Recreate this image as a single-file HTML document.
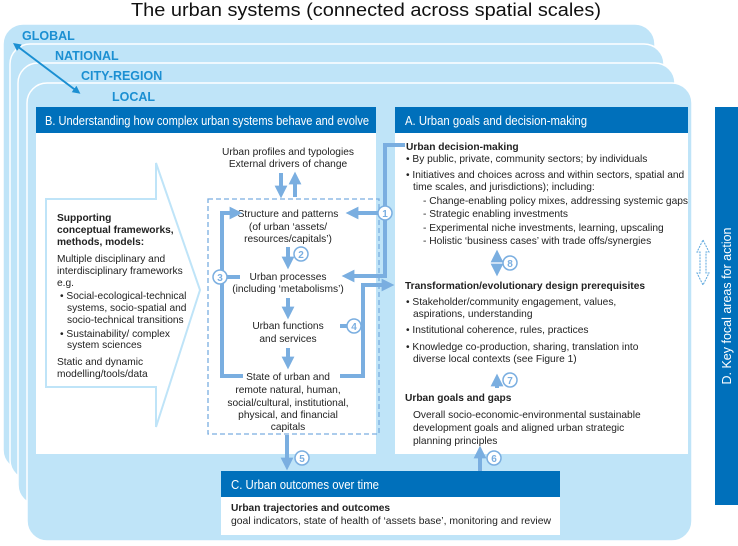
<!DOCTYPE html>
<html><head><meta charset="utf-8"><style>
body{margin:0;background:#fff;}
svg{display:block;font-family:"Liberation Sans",Arial,sans-serif;}
.t{font-size:10.2px;fill:#222;}
.b{font-weight:bold;}
.h{font-size:12.5px;fill:#fff;}
.lay{font-size:12.5px;font-weight:bold;fill:#1b8fd2;}
.cn{fill:#fff;stroke:#7aaee0;stroke-width:1.5;}
.cnt{font-size:10px;fill:#7aaee0;font-weight:bold;text-anchor:middle;}
</style></head><body>
<svg width="738" height="546" viewBox="0 0 738 546" xmlns="http://www.w3.org/2000/svg">
<defs>
<marker id="ah" markerWidth="3.2" markerHeight="3.2" refX="1.6" refY="1.6" orient="auto" markerUnits="strokeWidth"><path d="M0,0 L3.2,1.6 L0,3.2 z" fill="#7aaee0"/></marker>
<marker id="ad" markerWidth="4" markerHeight="4" refX="2.5" refY="2" orient="auto" markerUnits="strokeWidth"><path d="M0,0 L4,2 L0,4 z" fill="#1b8fd2"/></marker>
<marker id="ads" markerWidth="4" markerHeight="4" refX="1.5" refY="2" orient="auto-start-reverse" markerUnits="strokeWidth"><path d="M0,0 L4,2 L0,4 z" fill="#1b8fd2"/></marker>
</defs>
<text x="366" y="16" font-size="18.5" text-anchor="middle" fill="#111" textLength="470" lengthAdjust="spacingAndGlyphs">The urban systems (connected across spatial scales)</text>
<!-- layers -->
<rect x="3" y="24" width="652" height="446" rx="20" fill="#bfe4f8" stroke="#fff" stroke-width="1.5"/>
<rect x="10" y="44" width="654" height="436" rx="20" fill="#bfe4f8" stroke="#fff" stroke-width="1.5"/>
<rect x="18" y="63" width="657" height="442" rx="20" fill="#bfe4f8" stroke="#fff" stroke-width="1.5"/>
<rect x="27" y="83" width="665" height="458" rx="20" fill="#bfe4f8" stroke="#fff" stroke-width="1.5"/>
<text class="lay" x="22" y="40">GLOBAL</text>
<text class="lay" x="55" y="60">NATIONAL</text>
<text class="lay" x="81" y="80">CITY-REGION</text>
<text class="lay" x="112" y="101">LOCAL</text>
<line x1="17" y1="46" x2="78" y2="92" stroke="#1b8fd2" stroke-width="2" marker-end="url(#ad)" marker-start="url(#ads)"/>
<!-- B -->
<rect x="36" y="107" width="340" height="347" fill="#fff"/>
<rect x="36" y="107" width="340" height="26" fill="#0070bb"/>
<text class="h" x="45" y="125" textLength="324" lengthAdjust="spacingAndGlyphs">B. Understanding how complex urban systems behave and evolve</text>
<!-- A -->
<rect x="395" y="107" width="293" height="347" fill="#fff"/>
<rect x="395" y="107" width="293" height="26" fill="#0070bb"/>
<text class="h" x="405" y="125" textLength="182" lengthAdjust="spacingAndGlyphs">A. Urban goals and decision-making</text>
<!-- C -->
<rect x="221" y="471" width="339" height="64" fill="#fff"/>
<rect x="221" y="471" width="339" height="26" fill="#0070bb"/>
<text class="h" x="231" y="489" textLength="148" lengthAdjust="spacingAndGlyphs">C. Urban outcomes over time</text>
<text class="t b" x="231" y="511">Urban trajectories and outcomes</text>
<text class="t" x="231" y="524" textLength="320" lengthAdjust="spacingAndGlyphs">goal indicators, state of health of ‘assets base’, monitoring and review</text>
<!-- D -->
<rect x="715" y="107" width="23" height="398" fill="#0070bb"/>
<text class="h" transform="translate(731,306) rotate(-90)" text-anchor="middle">D. Key focal areas for action</text>
<path d="M703,240 L709,252 L706,252 L706,273 L709,273 L703,285 L697,273 L700,273 L700,252 L697,252 z" fill="none" stroke="#5aa6dd" stroke-width="1" stroke-dasharray="2,1"/>
<!-- big arrow outline -->
<path d="M46,199 L156,199 L156,163 L200,290 L156,427 L156,387 L46,387 z" fill="#fff" stroke="#bfe4f8" stroke-width="2"/>
<g class="t">
<text class="b" x="57" y="221">Supporting</text>
<text class="b" x="57" y="233">conceptual frameworks,</text>
<text class="b" x="57" y="245">methods, models:</text>
<text x="57" y="262">Multiple disciplinary and</text>
<text x="57" y="274">interdisciplinary frameworks</text>
<text x="57" y="286">e.g.</text>
<text x="60" y="299">• Social-ecological-technical</text>
<text x="67" y="311">systems, socio-spatial and</text>
<text x="67" y="323">socio-technical transitions</text>
<text x="60" y="337">• Sustainability/ complex</text>
<text x="67" y="348">system sciences</text>
<text x="57" y="365">Static and dynamic</text>
<text x="57" y="377">modelling/tools/data</text>
</g>
<!-- dashed box -->
<rect x="208" y="199" width="171" height="235" fill="none" stroke="#7aaee0" stroke-width="1.3" stroke-dasharray="5,3"/>
<g class="t" text-anchor="middle">
<text x="288" y="155">Urban profiles and typologies</text>
<text x="288" y="167">External drivers of change</text>
<text x="288" y="217">Structure and patterns</text>
<text x="288" y="230">(of urban ‘assets/</text>
<text x="288" y="242">resources/capitals’)</text>
<text x="288" y="280">Urban processes</text>
<text x="288" y="292">(including ‘metabolisms’)</text>
<text x="288" y="329">Urban functions</text>
<text x="288" y="342">and services</text>
<text x="288" y="380">State of urban and</text>
<text x="288" y="393">remote natural, human,</text>
<text x="288" y="406">social/cultural, institutional,</text>
<text x="288" y="418">physical, and financial</text>
<text x="288" y="430">capitals</text>
</g>
<g stroke="#7aaee0" stroke-width="4" fill="none">
<line x1="281" y1="173" x2="281" y2="192" marker-end="url(#ah)"/>
<line x1="295" y1="197" x2="295" y2="178" marker-end="url(#ah)"/>
<line x1="288" y1="247" x2="288" y2="263" marker-end="url(#ah)"/>
<line x1="288" y1="298" x2="288" y2="313" marker-end="url(#ah)"/>
<line x1="288" y1="348" x2="288" y2="363" marker-end="url(#ah)"/>
<path d="M243,376 L222,376 L222,213 L236,213" marker-end="url(#ah)"/>
<line x1="222" y1="277" x2="240" y2="277"/>
<path d="M405,145 L385,145 L385,276 L348,276" marker-end="url(#ah)"/>
<line x1="385" y1="213" x2="352" y2="213" marker-end="url(#ah)"/>
<path d="M340,376 L363,376 L363,285 L388,285" marker-end="url(#ah)"/>
<line x1="340" y1="326" x2="363" y2="326"/>
<line x1="287" y1="435" x2="287" y2="464" marker-end="url(#ah)"/>
<line x1="480" y1="471" x2="480" y2="452" marker-end="url(#ah)"/>
<line x1="497" y1="388" x2="497" y2="380" marker-end="url(#ah)"/>
<line x1="497" y1="262" x2="497" y2="256" marker-end="url(#ah)"/>
<line x1="497" y1="264" x2="497" y2="270" marker-end="url(#ah)"/>
</g>
<g>
<circle class="cn" cx="385" cy="213" r="7"/><text class="cnt" x="385" y="217">1</text>
<circle class="cn" cx="301" cy="254" r="7"/><text class="cnt" x="301" y="258">2</text>
<circle class="cn" cx="220" cy="277" r="7"/><text class="cnt" x="220" y="281">3</text>
<circle class="cn" cx="354" cy="326" r="7"/><text class="cnt" x="354" y="330">4</text>
<circle class="cn" cx="302" cy="458" r="7"/><text class="cnt" x="302" y="462">5</text>
<circle class="cn" cx="494" cy="458" r="7"/><text class="cnt" x="494" y="462">6</text>
<circle class="cn" cx="510" cy="380" r="7"/><text class="cnt" x="510" y="384">7</text>
<circle class="cn" cx="510" cy="263" r="7"/><text class="cnt" x="510" y="267">8</text>
</g>
<g class="t">
<text class="b" x="406" y="150">Urban decision-making</text>
<text x="406" y="162">• By public, private, community sectors; by individuals</text>
<text x="406" y="178">• Initiatives and choices across and within sectors, spatial and</text>
<text x="413" y="190">time scales, and jurisdictions); including:</text>
<text x="423" y="204">- Change-enabling policy mixes, addressing systemic gaps</text>
<text x="423" y="217">- Strategic enabling investments</text>
<text x="423" y="231">- Experimental niche investments, learning, upscaling</text>
<text x="423" y="244">- Holistic ‘business cases’ with trade offs/synergies</text>
<text class="b" x="405" y="289">Transformation/evolutionary design prerequisites</text>
<text x="406" y="305">• Stakeholder/community engagement, values,</text>
<text x="413" y="317">aspirations, understanding</text>
<text x="406" y="333">• Institutional coherence, rules, practices</text>
<text x="406" y="350">• Knowledge co-production, sharing, translation into</text>
<text x="413" y="362">diverse local contexts (see Figure 1)</text>
<text class="b" x="405" y="401">Urban goals and gaps</text>
<text x="413" y="418">Overall socio-economic-environmental sustainable</text>
<text x="413" y="431">development goals and aligned urban strategic</text>
<text x="413" y="444">planning principles</text>
</g>
</svg>
</body></html>
